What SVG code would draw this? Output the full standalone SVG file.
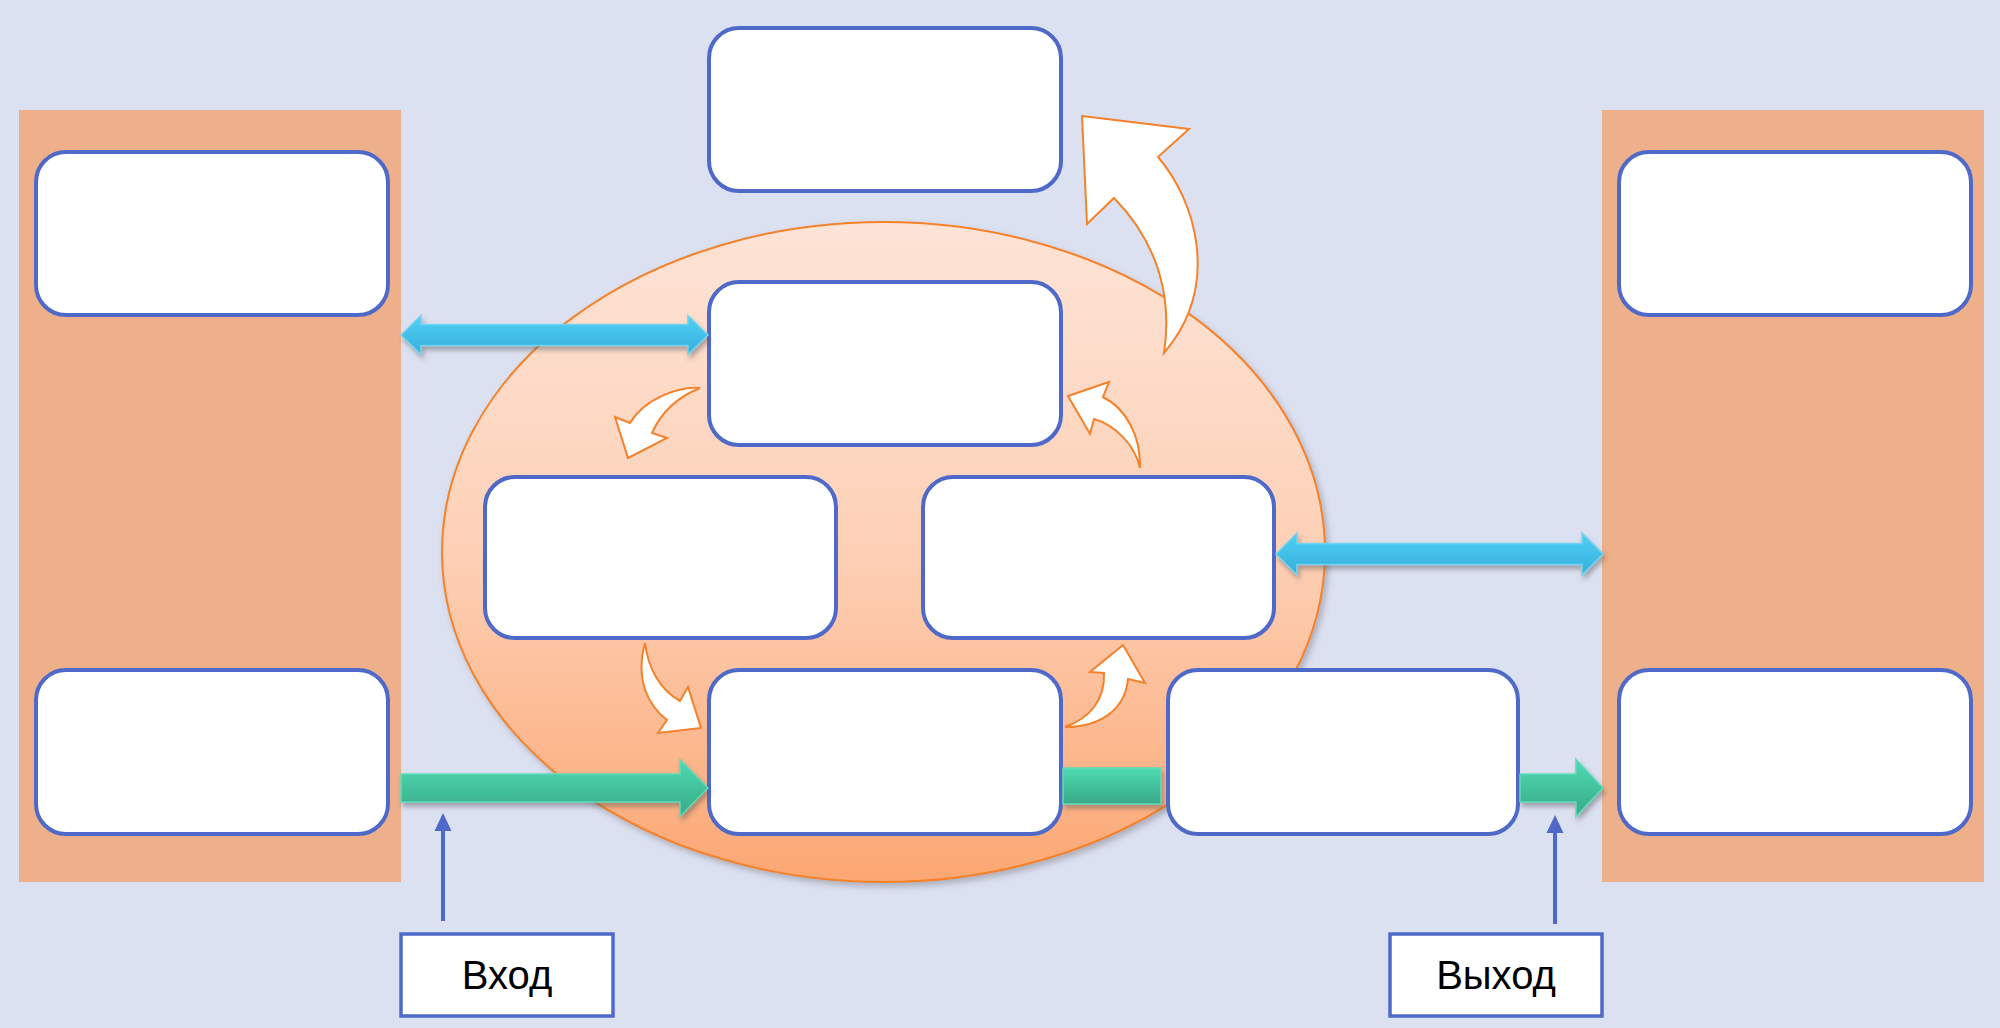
<svg xmlns="http://www.w3.org/2000/svg" width="2000" height="1028" viewBox="0 0 2000 1028">
<defs>
<linearGradient id="ellGrad" x1="0" y1="0" x2="0" y2="1">
<stop offset="0" stop-color="#FDE4D7"/>
<stop offset="0.5" stop-color="#FDD0B6"/>
<stop offset="1" stop-color="#FCA773"/>
</linearGradient>
<linearGradient id="blueGrad" x1="0" y1="0" x2="0" y2="1">
<stop offset="0" stop-color="#4FD0F7"/>
<stop offset="1" stop-color="#37AEDA"/>
</linearGradient>
<linearGradient id="greenGrad" x1="0" y1="0" x2="0" y2="1">
<stop offset="0" stop-color="#4EDBB3"/>
<stop offset="1" stop-color="#38A987"/>
</linearGradient>
<filter id="shadow" x="-10%" y="-30%" width="120%" height="170%">
<feDropShadow dx="2" dy="4" stdDeviation="2.5" flood-color="#555555" flood-opacity="0.45"/>
</filter>
<filter id="ellShadow" x="-5%" y="-5%" width="110%" height="112%">
<feDropShadow dx="3" dy="4" stdDeviation="3" flood-color="#666666" flood-opacity="0.4"/>
</filter>
</defs>
<style>
.bg{fill:#DCE1F2}
.panel{fill:#EDB08B}
.box{fill:#FFFFFF;stroke:#4F69C9;stroke-width:4}
.label{fill:#FFFFFF;stroke:#4F69C9;stroke-width:3.5}
.txt{font-family:"Liberation Sans","Noto Sans",Arial,sans-serif;font-size:40px;fill:#000000;text-anchor:middle}
.blue{fill:url(#blueGrad);stroke:#74D3F2;stroke-width:1.5;filter:url(#shadow)}
.green{fill:url(#greenGrad);stroke:#62DAB9;stroke-width:1.5;filter:url(#shadow)}
.curve{fill:#FFFFFF;stroke:#F5822A;stroke-width:2;stroke-linejoin:miter}
.up{stroke:#4F69C9;stroke-width:4;fill:none}
.uphead{fill:#4F69C9}
</style>
<rect class="bg" x="0" y="0" width="2000" height="1028"/>
<g id="panel-left"><rect class="panel" x="19" y="110" width="382" height="772"/></g>
<g id="panel-right"><rect class="panel" x="1602" y="110" width="382" height="772"/></g>
<g id="cycle-ellipse"><ellipse cx="883.5" cy="552" rx="441.5" ry="330" fill="url(#ellGrad)" stroke="#F5822A" stroke-width="2" filter="url(#ellShadow)"/></g>

<g id="box-top"><rect class="box" x="709" y="28" width="352" height="163" rx="30"/></g>
<g id="box-center"><rect class="box" x="709" y="282" width="352" height="163" rx="30"/></g>
<g id="box-left-mid"><rect class="box" x="485" y="477" width="351" height="161" rx="30"/></g>
<g id="box-right-mid"><rect class="box" x="923" y="477" width="351" height="161" rx="30"/></g>
<g id="box-bottom-center"><rect class="box" x="709" y="670" width="352" height="164" rx="30"/></g>
<g id="box-bottom-right"><rect class="box" x="1168" y="670" width="350" height="164" rx="30"/></g>
<g id="box-left-top"><rect class="box" x="36" y="152" width="352" height="163" rx="30"/></g>
<g id="box-left-bottom"><rect class="box" x="36" y="670" width="352" height="164" rx="30"/></g>
<g id="box-right-top"><rect class="box" x="1619" y="152" width="352" height="163" rx="30"/></g>
<g id="box-right-bottom"><rect class="box" x="1619" y="670" width="352" height="164" rx="30"/></g>

<g id="label-input"><rect class="label" x="401" y="934" width="212" height="82"/><text class="txt" x="507" y="989">Вход</text></g>
<g id="label-output"><rect class="label" x="1390" y="934" width="212" height="82"/><text class="txt" x="1496" y="989">Выход</text></g>

<g id="connectors">
<polygon class="blue" points="401,335 421,315.5 421,324.5 688,324.5 688,315.5 708,335 688,354.5 688,345.5 421,345.5 421,354.5"/>
<polygon class="blue" points="1276,554 1297,533 1297,543.5 1582,543.5 1582,533 1603,554 1582,575 1582,564.5 1297,564.5 1297,575"/>
<polygon class="green" points="401,774 680,774 680,759.5 708,788 680,816.5 680,802 401,802"/>
<rect class="green" x="1063" y="768" width="98" height="36"/>
<polygon class="green" points="1520,774 1576,774 1576,759.5 1603,788 1576,816.5 1576,802 1520,802"/>
<path class="curve" d="M1082,116 L1189,129 L1158,157 C1195,200 1222,285 1164,353 C1172,300 1160,245 1114,198 L1087,224 Z"/>
<path class="curve" d="M700,388 C680,386 645,398 630,423 L615,417 L628,458 L667,438 L652,433 C660,415 675,398 700,388 Z"/>
<path class="curve" d="M1068,396 L1109,382 L1103,397 C1125,408 1141,435 1140,468 C1135,445 1115,425 1094,419 L1090,434 Z"/>
<path class="curve" d="M645,643 C635,680 648,705 667,720 L658,733 L701,728 L688,687 L680,701 C660,690 648,668 645,643 Z"/>
<path class="curve" d="M1065,727 C1090,718 1105,700 1104,673 L1090,672 L1123,645 L1145,683 L1128,679 C1125,710 1100,727 1065,727 Z"/>
<line class="up" x1="443" y1="921" x2="443" y2="828"/>
<polygon class="uphead" points="443,813 434.5,831 451.5,831"/>
<line class="up" x1="1555" y1="924" x2="1555" y2="830"/>
<polygon class="uphead" points="1555,815 1546.5,833 1563.5,833"/>
</g>
</svg>
